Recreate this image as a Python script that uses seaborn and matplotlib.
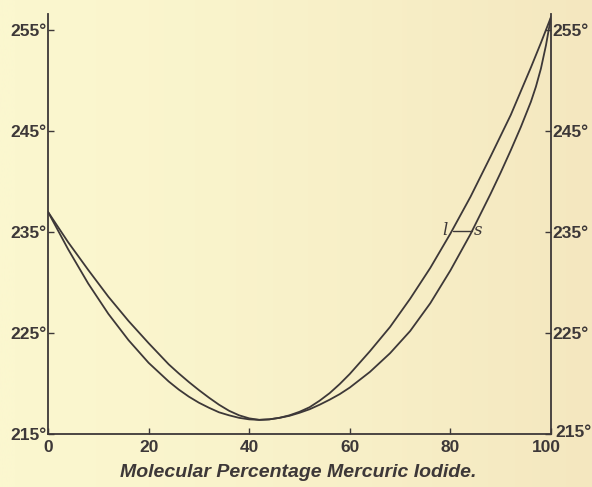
import numpy as np
import pandas as pd
import matplotlib
matplotlib.use("Agg")
import matplotlib.pyplot as plt
from matplotlib.colors import LinearSegmentedColormap
from matplotlib.transforms import offset_copy
import seaborn as sns

# Freezing-point curves of the HgBr2 / HgI2 system (temperature in degrees C)
liquidus_x = [0, 4, 8, 12, 16, 20, 24, 26, 28, 30, 32, 34, 36, 38, 40, 42, 44, 46, 48, 50,
              52, 54, 56, 58, 60, 64, 68, 72, 76, 80, 84, 88, 92, 96, 98, 100]
liquidus_t = [237.0, 234.0, 231.25, 228.6, 226.2, 224.0, 221.9, 221.0, 220.15, 219.35,
              218.6, 217.9, 217.3, 216.85, 216.55, 216.4, 216.45, 216.6, 216.85, 217.2,
              217.65, 218.3, 219.05, 219.95, 220.95, 223.2, 225.6, 228.4, 231.45, 234.85,
              238.5, 242.5, 246.6, 251.3, 253.75, 256.3]

solidus_x = [0, 4, 8, 12, 16, 20, 24, 26, 28, 30, 32, 34, 36, 38, 40, 42, 44, 46, 48, 50,
             52, 54, 56, 58, 60, 64, 68, 72, 76, 80, 84, 88, 90, 92, 94, 96, 97, 98, 99, 100]
solidus_t = [237.0, 233.3, 229.9, 226.9, 224.3, 222.05, 220.2, 219.4, 218.7, 218.1, 217.6,
             217.15, 216.85, 216.6, 216.45, 216.4, 216.45, 216.6, 216.8, 217.1, 217.45,
             217.9, 218.4, 218.95, 219.6, 221.15, 223.0, 225.2, 227.95, 231.2, 234.8, 238.8,
             240.9, 243.1, 245.4, 247.9, 249.4, 251.2, 253.5, 256.3]

# Tie line joining the two branches at 235 degrees
tie_x = [80.5, 84.3]
tie_t = [235.1, 235.1]

x_ticks = [0, 20, 40, 60, 80, 100]
y_ticks = [215, 225, 235, 245, 255]
y_labels = ["215°", "225°", "235°", "245°", "255°"]

sns.set_style("ticks")
plt.rcParams["font.family"] = ["Liberation Sans", "DejaVu Sans"]

paper_left = "#FBF7CF"
paper_right = "#F4E7BF"
ink = "#3d3838"

fig = plt.figure(figsize=(5.92, 4.87), dpi=100, facecolor=paper_left)

# aged-paper tint across the sheet
bg = fig.add_axes([0, 0, 1, 1], zorder=-10)
bg.imshow(np.linspace(0, 1, 256)[None, :] ** 1.5, aspect="auto",
          cmap=LinearSegmentedColormap.from_list("paper", [paper_left, paper_right]),
          extent=[0, 1, 0, 1])
bg.set_axis_off()

ax = fig.add_axes([48 / 592, 53 / 487, 503 / 592, 420 / 487])
ax.patch.set_alpha(0)

df = pd.concat([
    pd.DataFrame({"x": liquidus_x, "t": liquidus_t, "curve": "l"}),
    pd.DataFrame({"x": solidus_x, "t": solidus_t, "curve": "s"}),
])
sns.lineplot(data=df, x="x", y="t", units="curve", estimator=None, sort=False,
             color=ink, linewidth=1.3, ax=ax, legend=False)
sns.lineplot(x=tie_x, y=tie_t, color=ink, linewidth=1.0, ax=ax, legend=False)

ax.text(tie_x[0] - 1.0, tie_t[0] + 0.05, "l", ha="right", va="center",
        fontsize=12, style="italic", family="DejaVu Serif", color=ink)
ax.text(tie_x[1] + 0.3, tie_t[0] + 0.05, "s", ha="left", va="center",
        fontsize=12, style="italic", family="DejaVu Serif", color=ink)

ax.set_xlim(0, 100)
ax.set_ylim(215, 256.6)
ax.set_xticks(x_ticks)
ax.set_yticks(y_ticks)
ax.set_yticklabels(y_labels)
ax.tick_params(axis="both", direction="in", length=4, width=1, color=ink,
               labelcolor=ink, labelsize=12.5)
ax.tick_params(axis="x", pad=4)
ax.tick_params(axis="y", right=True, labelright=True, pad=1)
for lab in ax.get_xticklabels() + ax.get_yticklabels():
    lab.set_fontweight("bold")
for tick in ax.yaxis.get_major_ticks():
    tick.label2.set_fontweight("bold")

# lift the lowest right-hand label clear of the "100"
low_tick = ax.yaxis.get_major_ticks()[0]
low_tick.label2.set_transform(offset_copy(low_tick.label2.get_transform(), fig=fig,
                                          x=2, y=2.5, units="points"))
last_x = ax.xaxis.get_major_ticks()[-1]
last_x.label1.set_transform(offset_copy(last_x.label1.get_transform(), fig=fig,
                                        x=-3, y=0, units="points"))

for side in ["left", "right", "bottom"]:
    ax.spines[side].set_visible(True)
    ax.spines[side].set_color(ink)
    ax.spines[side].set_linewidth(1.3)
ax.spines["top"].set_visible(False)
ax.set_xlabel("")
ax.set_ylabel("")

fig.text(0.503, 0.029, "Molecular Percentage Mercuric Iodide.", ha="center", va="center",
         fontsize=14, style="italic", fontweight="bold", color=ink)

fig.savefig("out.png", dpi=100)
